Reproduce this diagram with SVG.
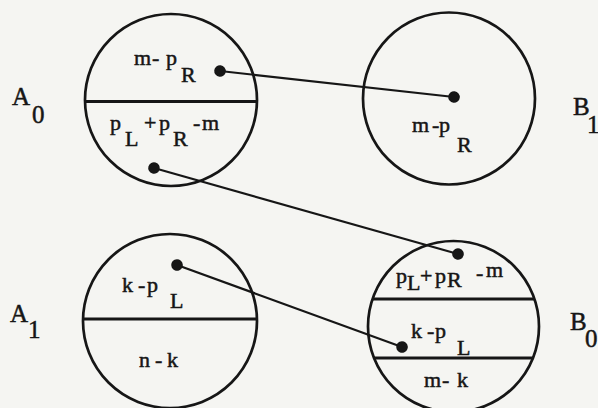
<svg xmlns="http://www.w3.org/2000/svg" width="598" height="408" viewBox="0 0 598 408">
<style>
.c{fill:none;stroke:#161616;stroke-width:2.7}
.d{stroke:#161616;stroke-width:3.2}
.t{font-family:"Liberation Serif",serif;font-size:22px;fill:#161616;stroke:#161616;stroke-width:0.5}
.lb{font-family:"Liberation Serif",serif;font-size:25px;fill:#161616;stroke:#161616;stroke-width:0.5}
.w{stroke:#161616;stroke-width:2.2;fill:none;marker-start:url(#dot);marker-end:url(#dot)}
</style>
<defs>
<marker id="dot" markerWidth="14" markerHeight="14" refX="7" refY="7" markerUnits="userSpaceOnUse" orient="auto">
<circle cx="7" cy="7" r="5.8" fill="#161616"/>
</marker>
</defs>
<rect width="598" height="408" fill="#f5f5f2"/>
<g id="A0">
<circle class="c" cx="171" cy="100" r="86"/>
<line class="d" x1="85" y1="101.5" x2="257" y2="101.5"/>
<text class="t" x="134 152 166" y="65">m-p</text>
<text class="t" x="181" y="82">R</text>
<text class="t" x="110" y="130">p</text>
<text class="t" x="125" y="146">L</text>
<text class="t" x="144 159" y="130">+p</text>
<text class="t" x="173" y="146">R</text>
<text class="t" x="193 202" y="130">-m</text>
<text class="lb" x="12" y="105">A</text>
<text class="lb" x="32" y="123">0</text>
</g>
<g id="B1">
<circle class="c" cx="449" cy="98.5" r="86"/>
<text class="t" x="412 432 439" y="132">m-p</text>
<text class="t" x="457" y="152">R</text>
<text class="lb" x="573" y="115">B</text>
<text class="lb" x="587" y="133">1</text>
</g>
<g id="A1">
<circle class="c" cx="170" cy="321" r="87"/>
<line class="d" x1="83" y1="319" x2="257" y2="319"/>
<text class="t" x="122 138 147" y="292">k-p</text>
<text class="t" x="170" y="308">L</text>
<text class="t" x="139 155 167" y="367">n-k</text>
<text class="lb" x="10" y="322">A</text>
<text class="lb" x="28" y="338">1</text>
</g>
<g id="B0">
<circle class="c" cx="453.5" cy="326.5" r="85.5"/>
<line class="d" x1="372.5" y1="299" x2="534.5" y2="299"/>
<line class="d" x1="374" y1="358" x2="533" y2="358"/>
<text class="t" x="396" y="283">p</text>
<text class="t" x="407" y="290">L</text>
<text class="t" x="420 435" y="283">+p</text>
<text class="t" x="447" y="287">R</text>
<text class="t" x="476" y="280">-</text>
<text class="t" x="486" y="277">m</text>
<text class="t" x="411 427 435" y="338">k-p</text>
<text class="t" x="457" y="355">L</text>
<text class="t" x="424 442 457" y="387">m-k</text>
<text class="lb" x="570" y="330">B</text>
<text class="lb" x="585" y="347">0</text>
</g>
<g id="connectors">
<path class="w" d="M220,71 L454,97"/>
<path class="w" d="M154,168 L458,254"/>
<path class="w" d="M177,265 L402,347"/>
</g>
</svg>
